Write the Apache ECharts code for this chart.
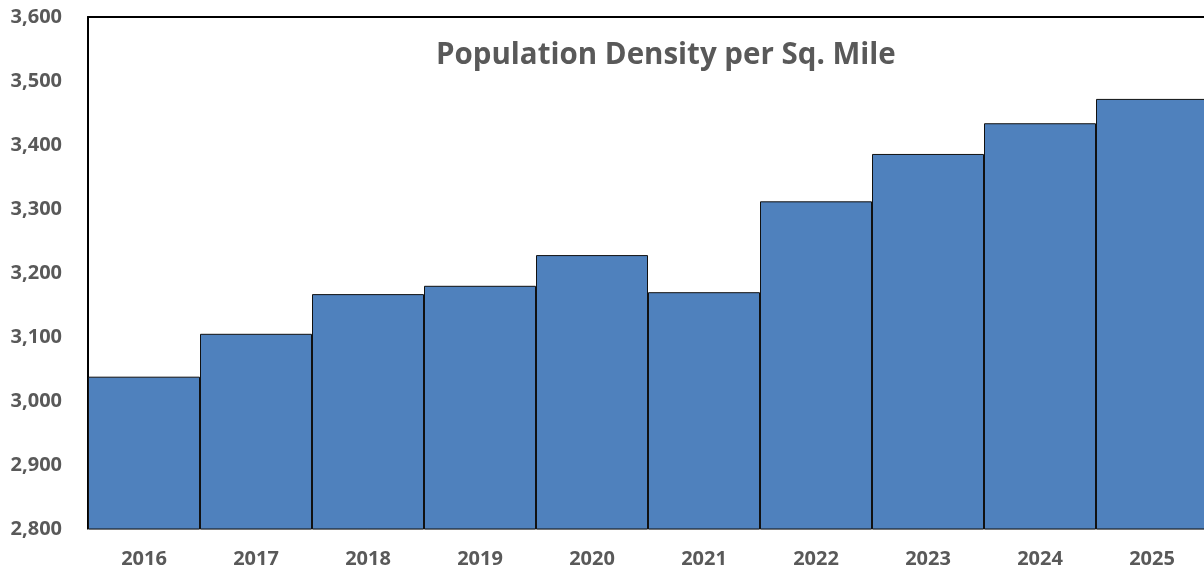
<!DOCTYPE html>
<html>
<head>
<meta charset="utf-8">
<script src="https://cdn.jsdelivr.net/npm/echarts@6/dist/echarts.min.js"></script>
<style>
  html, body { margin: 0; padding: 0; background: #fff; overflow: hidden; }
  #chart { width: 1208px; height: 574px; }
</style>
</head>
<body>
<div id="chart"></div>
<script>
// Years shown along the bottom axis
const years = ['2016', '2017', '2018', '2019', '2020', '2021', '2022', '2023', '2024', '2025'];
// Residents per square mile for each year
const density = [3038, 3105, 3167, 3180, 3228, 3170, 3312, 3386, 3434, 3472];
// Value axis range
const yMin = 2800;
const yMax = 3600;
const yStep = 100;

const labelFont = { color: '#595959', fontWeight: 'bold', fontSize: 20, fontFamily: '"Open Sans", "Liberation Sans", sans-serif' };

const chart = echarts.init(document.getElementById('chart'), null, { renderer: 'canvas' });
chart.setOption({
  animation: false,
  backgroundColor: '#ffffff',
  title: {
    text: 'Population Density per Sq. Mile',
    left: 431,
    top: 36,
    textStyle: { color: '#595959', fontWeight: 'bold', fontSize: 29.5, fontFamily: '"Open Sans", "Liberation Sans", sans-serif' }
  },
  grid: { left: 88, top: 17, right: 0, bottom: 45, containLabel: false },
  xAxis: [
    {
      type: 'category',
      data: years,
      axisLine: { show: true, lineStyle: { color: '#d9d9d9', width: 1 } },
      axisTick: { show: false },
      axisLabel: Object.assign({ margin: 20 }, labelFont),
      splitLine: { show: false }
    },
    {
      type: 'category',
      position: 'top',
      data: years,
      axisLine: { show: true, lineStyle: { color: '#000', width: 2 } },
      axisTick: { show: false },
      axisLabel: { show: false }
    }
  ],
  yAxis: {
    type: 'value',
    min: yMin,
    max: yMax,
    interval: yStep,
    axisLine: { show: true, lineStyle: { color: '#000', width: 2 } },
    axisTick: { show: false },
    splitLine: { show: false },
    axisLabel: Object.assign({
      margin: 26,
      formatter: v => v.toLocaleString('en-US')
    }, labelFont)
  },
  series: [{
    type: 'bar',
    data: density,
    barCategoryGap: 0,
    itemStyle: { color: '#4F81BD', borderColor: '#111', borderWidth: 1 }
  }]
});
</script>
</body>
</html>
